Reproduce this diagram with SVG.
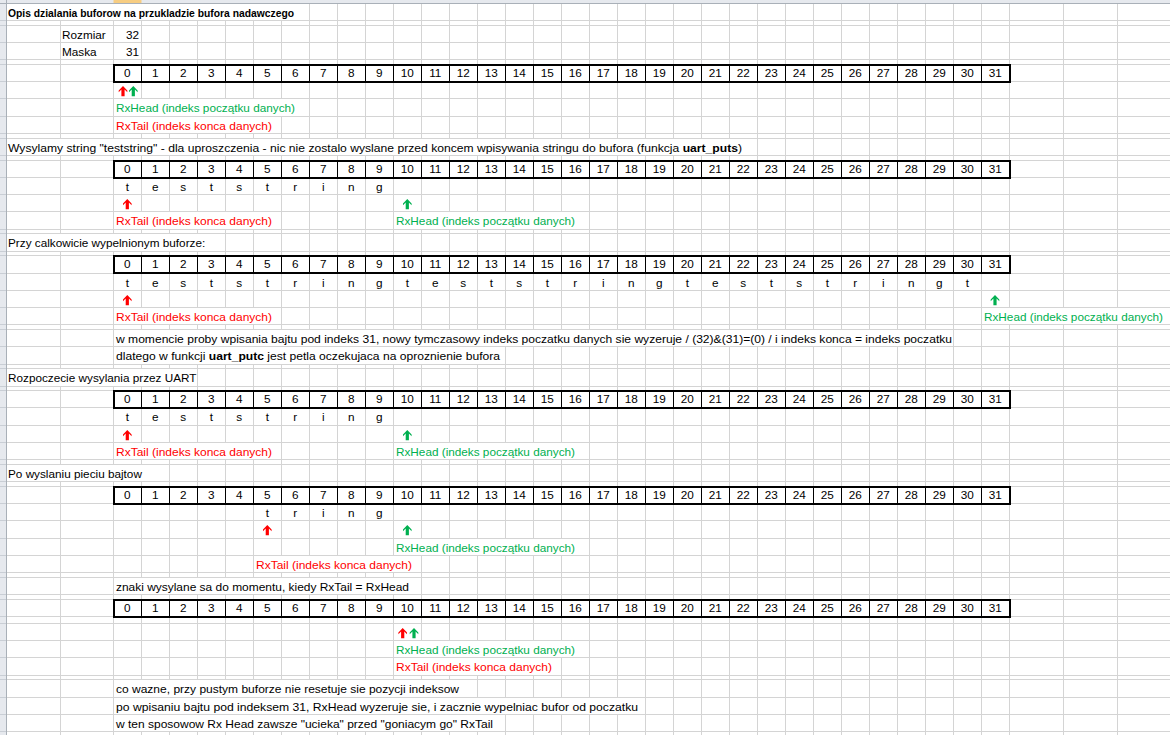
<svg xmlns="http://www.w3.org/2000/svg" width="1170" height="735" viewBox="0 0 1170 735">
<style>
text{font-family:"Liberation Sans",Arial,sans-serif;font-size:11.75px;fill:#000}
.b{font-weight:bold}
.g{fill:#00b050}
.r{fill:#ff0000}
.c{text-anchor:middle}
.e{text-anchor:end}
.grid{stroke:#d4d4d4;stroke-width:1;fill:none;shape-rendering:crispEdges}
.hdr{fill:#e6e9ee}
.hdrline{stroke:#a9b0b8;stroke-width:1;fill:none;shape-rendering:crispEdges}
.hdrsep{stroke:#c9ced5;stroke-width:1;fill:none;shape-rendering:crispEdges}
.mask{fill:#fff}
.box{fill:none;stroke:#000;stroke-width:2;shape-rendering:crispEdges}
.sep{fill:none;stroke:#000;stroke-width:1;shape-rendering:crispEdges}
.up-red{fill:#ff0000}
.up-green{fill:#00b050}
</style>
<defs>
  <!-- bold up arrow, origin at the tip -->
  <path id="arrowUp" d="M0,0 L4.3,4.4 L4.3,6.3 L1.6,3.6 L1.6,10.2 L-1.6,10.2 L-1.6,3.6 L-4.3,6.3 L-4.3,4.4 Z"/>
  <!-- one 32-cell buffer row with its index numbers -->
  <g id="indexRow">
    <rect class="box" x="113.5" y="0" width="896" height="17"/>
    <path class="sep" d="M141.5,0V17M169.5,0V17M197.5,0V17M225.5,0V17M253.5,0V17M281.5,0V17M309.5,0V17M337.5,0V17M365.5,0V17M393.5,0V17M421.5,0V17M449.5,0V17M477.5,0V17M505.5,0V17M533.5,0V17M561.5,0V17M589.5,0V17M617.5,0V17M645.5,0V17M673.5,0V17M701.5,0V17M729.5,0V17M757.5,0V17M785.5,0V17M813.5,0V17M841.5,0V17M869.5,0V17M897.5,0V17M925.5,0V17M953.5,0V17M981.5,0V17"/>
    <g class="c">
      <text x="127.3" y="12.5">0</text><text x="155.3" y="12.5">1</text><text x="183.3" y="12.5">2</text><text x="211.3" y="12.5">3</text>
      <text x="239.3" y="12.5">4</text><text x="267.3" y="12.5">5</text><text x="295.3" y="12.5">6</text><text x="323.3" y="12.5">7</text>
      <text x="351.3" y="12.5">8</text><text x="379.3" y="12.5">9</text><text x="407.3" y="12.5">10</text><text x="435.3" y="12.5">11</text>
      <text x="463.3" y="12.5">12</text><text x="491.3" y="12.5">13</text><text x="519.3" y="12.5">14</text><text x="547.3" y="12.5">15</text>
      <text x="575.3" y="12.5">16</text><text x="603.3" y="12.5">17</text><text x="631.3" y="12.5">18</text><text x="659.3" y="12.5">19</text>
      <text x="687.3" y="12.5">20</text><text x="715.3" y="12.5">21</text><text x="743.3" y="12.5">22</text><text x="771.3" y="12.5">23</text>
      <text x="799.3" y="12.5">24</text><text x="827.3" y="12.5">25</text><text x="855.3" y="12.5">26</text><text x="883.3" y="12.5">27</text>
      <text x="911.3" y="12.5">28</text><text x="939.3" y="12.5">29</text><text x="967.3" y="12.5">30</text><text x="995.3" y="12.5">31</text>
    </g>
  </g>
  <!-- "teststring" written one character per cell, starting at cell 0 -->
  <g id="word" class="c">
    <text x="127.3" y="0">t</text><text x="155.3" y="0">e</text><text x="183.3" y="0">s</text><text x="211.3" y="0">t</text>
    <text x="239.3" y="0">s</text><text x="267.3" y="0">t</text><text x="295.3" y="0">r</text><text x="323.3" y="0">i</text>
    <text x="351.3" y="0">n</text><text x="379.3" y="0">g</text>
  </g>
</defs>

<rect width="1170" height="735" fill="#fff"/>

<!-- sheet gridlines -->
<g id="grid">
  <path class="grid" d="M6.5,3V735M60.5,3V735M113.5,3V735M141.5,3V735M169.5,3V735M197.5,3V735M225.5,3V735M253.5,3V735M281.5,3V735M309.5,3V735M337.5,3V735M365.5,3V735M393.5,3V735M421.5,3V735M449.5,3V735M477.5,3V735M505.5,3V735M533.5,3V735M561.5,3V735M589.5,3V735M617.5,3V735M645.5,3V735M673.5,3V735M701.5,3V735M729.5,3V735M757.5,3V735M785.5,3V735M813.5,3V735M841.5,3V735M869.5,3V735M897.5,3V735M925.5,3V735M953.5,3V735M981.5,3V735M1009.5,3V735M1063.5,3V735M1117.5,3V735"/>
  <path class="grid" d="M6,20.5H1170M6,25.5H1170M6,42.5H1170M6,59.5H1170M6,64.5H1170M6,81.5H1170M6,98.5H1170M6,116.5H1170M6,133.5H1170M6,138.5H1170M6,155.5H1170M6,160.5H1170M6,177.5H1170M6,194.5H1170M6,211.5H1170M6,229.5H1170M6,233.5H1170M6,251.5H1170M6,255.5H1170M6,273.5H1170M6,290.5H1170M6,307.5H1170M6,324.5H1170M6,329.5H1170M6,346.5H1170M6,364.5H1170M6,368.5H1170M6,386.5H1170M6,390.5H1170M6,407.5H1170M6,425.5H1170M6,442.5H1170M6,459.5H1170M6,464.5H1170M6,481.5H1170M6,486.5H1170M6,503.5H1170M6,520.5H1170M6,538.5H1170M6,555.5H1170M6,572.5H1170M6,577.5H1170M6,594.5H1170M6,599.5H1170M6,616.5H1170M6,623.5H1170M6,640.5H1170M6,657.5H1170M6,675.5H1170M6,679.5H1170M6,697.5H1170M6,714.5H1170M6,731.5H1170"/>
  <!-- cells covered by overflowing text hide their inner gridlines -->
  <g class="mask">
    <rect x="7" y="4" width="302" height="16"/>
    <rect x="114" y="99" width="195" height="17"/>
    <rect x="114" y="117" width="167" height="16"/>
    <rect x="7" y="139" width="750" height="16"/>
    <rect x="114" y="212" width="167" height="17"/>
    <rect x="394" y="212" width="195" height="17"/>
    <rect x="7" y="234" width="218" height="17"/>
    <rect x="114" y="308" width="167" height="16"/>
    <rect x="982" y="308" width="188" height="16"/>
    <rect x="114" y="330" width="839" height="16"/>
    <rect x="114" y="347" width="391" height="17"/>
    <rect x="7" y="369" width="190" height="17"/>
    <rect x="114" y="443" width="167" height="16"/>
    <rect x="394" y="443" width="195" height="16"/>
    <rect x="7" y="465" width="162" height="16"/>
    <rect x="394" y="539" width="195" height="16"/>
    <rect x="254" y="556" width="167" height="16"/>
    <rect x="114" y="578" width="307" height="16"/>
    <rect x="394" y="641" width="195" height="16"/>
    <rect x="394" y="658" width="167" height="17"/>
    <rect x="114" y="680" width="363" height="17"/>
    <rect x="114" y="698" width="531" height="16"/>
    <rect x="114" y="715" width="391" height="16"/>
  </g>
</g>

<!-- row and column header edges -->
<g id="headers">
  <rect class="hdr" x="0" y="0" width="6" height="735"/>
  <rect class="hdr" x="0" y="0" width="1170" height="3"/>
  <rect x="113.5" y="0" width="28" height="3" fill="#f7cd82"/>
  <path class="hdrsep" d="M0,20.5H6M0,25.5H6M0,42.5H6M0,59.5H6M0,64.5H6M0,81.5H6M0,98.5H6M0,116.5H6M0,133.5H6M0,138.5H6M0,155.5H6M0,160.5H6M0,177.5H6M0,194.5H6M0,211.5H6M0,229.5H6M0,233.5H6M0,251.5H6M0,255.5H6M0,273.5H6M0,290.5H6M0,307.5H6M0,324.5H6M0,329.5H6M0,346.5H6M0,364.5H6M0,368.5H6M0,386.5H6M0,390.5H6M0,407.5H6M0,425.5H6M0,442.5H6M0,459.5H6M0,464.5H6M0,481.5H6M0,486.5H6M0,503.5H6M0,520.5H6M0,538.5H6M0,555.5H6M0,572.5H6M0,577.5H6M0,594.5H6M0,599.5H6M0,616.5H6M0,623.5H6M0,640.5H6M0,657.5H6M0,675.5H6M0,679.5H6M0,697.5H6M0,714.5H6M0,731.5H6"/>
  <path class="hdrline" d="M6.5,0V735M0,3.5H1170"/>
</g>

<!-- intro: buffer size, mask and initial indices -->
<g id="intro">
  <text class="b" x="8" y="16.5" textLength="286" lengthAdjust="spacingAndGlyphs">Opis dzialania buforow na przukladzie bufora nadawczego</text>
  <text x="62" y="38.5">Rozmiar</text><text class="e" x="139" y="38.5">32</text>
  <text x="62" y="55.5">Maska</text><text class="e" x="139" y="55.5">31</text>
  <use href="#indexRow" y="64.5"/>
  <use href="#arrowUp" class="up-red" x="123" y="86"/>
  <use href="#arrowUp" class="up-green" x="133.3" y="86"/>
  <text class="g" x="116" y="111.5">RxHead (indeks początku danych)</text>
  <text class="r" x="116" y="129.5" textLength="156" lengthAdjust="spacingAndGlyphs">RxTail (indeks konca danych)</text>
</g>

<!-- string written into the buffer -->
<g id="written">
  <text x="8" y="151.5" textLength="734" lengthAdjust="spacingAndGlyphs">Wysylamy string "teststring" - dla uproszczenia - nic nie zostalo wyslane przed koncem wpisywania stringu do bufora (funkcja <tspan class="b">uart_puts</tspan>)</text>
  <use href="#indexRow" y="160.5"/>
  <use href="#word" y="190.5"/>
  <use href="#arrowUp" class="up-red" x="127.3" y="199"/>
  <use href="#arrowUp" class="up-green" x="407.3" y="199"/>
  <text class="r" x="116" y="224.5" textLength="156" lengthAdjust="spacingAndGlyphs">RxTail (indeks konca danych)</text>
  <text class="g" x="396" y="224.5">RxHead (indeks początku danych)</text>
</g>

<!-- completely filled buffer -->
<g id="full">
  <text x="8" y="246.5">Przy calkowicie wypelnionym buforze:</text>
  <use href="#indexRow" y="255.5"/>
  <use href="#word" y="286.5"/>
  <use href="#word" x="280" y="286.5"/>
  <use href="#word" x="560" y="286.5"/>
  <text class="c" x="967.3" y="286.5">t</text>
  <use href="#arrowUp" class="up-red" x="127.3" y="295"/>
  <use href="#arrowUp" class="up-green" x="995" y="295"/>
  <text class="r" x="116" y="320.5" textLength="156" lengthAdjust="spacingAndGlyphs">RxTail (indeks konca danych)</text>
  <text class="g" x="984" y="320.5">RxHead (indeks początku danych)</text>
  <text x="116" y="342.5" textLength="836" lengthAdjust="spacingAndGlyphs">w momencie proby wpisania bajtu pod indeks 31, nowy tymczasowy indeks poczatku danych sie wyzeruje / (32)&amp;(31)=(0) / i indeks konca = indeks poczatku</text>
  <text x="116" y="359.5" textLength="384" lengthAdjust="spacingAndGlyphs">dlatego w funkcji <tspan class="b">uart_putc</tspan> jest petla oczekujaca na oproznienie bufora</text>
</g>

<!-- UART transmission starts -->
<g id="start">
  <text x="8" y="381.5">Rozpoczecie wysylania przez UART</text>
  <use href="#indexRow" y="390.5"/>
  <use href="#word" y="420.5"/>
  <use href="#arrowUp" class="up-red" x="127.3" y="430"/>
  <use href="#arrowUp" class="up-green" x="407.3" y="430"/>
  <text class="r" x="116" y="455.5" textLength="156" lengthAdjust="spacingAndGlyphs">RxTail (indeks konca danych)</text>
  <text class="g" x="396" y="455.5">RxHead (indeks początku danych)</text>
</g>

<!-- after five bytes were sent -->
<g id="five">
  <text x="8" y="477.5">Po wyslaniu pieciu bajtow</text>
  <use href="#indexRow" y="486.5"/>
  <g class="c">
    <text x="267.3" y="516.5">t</text><text x="295.3" y="516.5">r</text><text x="323.3" y="516.5">i</text>
    <text x="351.3" y="516.5">n</text><text x="379.3" y="516.5">g</text>
  </g>
  <use href="#arrowUp" class="up-red" x="267.3" y="525"/>
  <use href="#arrowUp" class="up-green" x="407.3" y="525"/>
  <text class="g" x="396" y="551.5">RxHead (indeks początku danych)</text>
  <text class="r" x="256" y="568.5" textLength="156" lengthAdjust="spacingAndGlyphs">RxTail (indeks konca danych)</text>
</g>

<!-- buffer emptied -->
<g id="empty">
  <text x="116" y="590.5" textLength="293" lengthAdjust="spacingAndGlyphs">znaki wysylane sa do momentu, kiedy RxTail = RxHead</text>
  <use href="#indexRow" y="599.5"/>
  <use href="#arrowUp" class="up-red" x="402.7" y="628"/>
  <use href="#arrowUp" class="up-green" x="414" y="628"/>
  <text class="g" x="396" y="653.5">RxHead (indeks początku danych)</text>
  <text class="r" x="396" y="670.5" textLength="156" lengthAdjust="spacingAndGlyphs">RxTail (indeks konca danych)</text>
  <text x="116" y="692.5" textLength="343" lengthAdjust="spacingAndGlyphs">co wazne, przy pustym buforze nie resetuje sie pozycji indeksow</text>
  <text x="116" y="710.5" textLength="522" lengthAdjust="spacingAndGlyphs">po wpisaniu bajtu pod indeksem 31, RxHead wyzeruje sie, i zacznie wypelniac bufor od poczatku</text>
  <text x="116" y="727.5" textLength="377" lengthAdjust="spacingAndGlyphs">w ten sposowow Rx Head zawsze "ucieka" przed "goniacym go" RxTail</text>
</g>
</svg>
